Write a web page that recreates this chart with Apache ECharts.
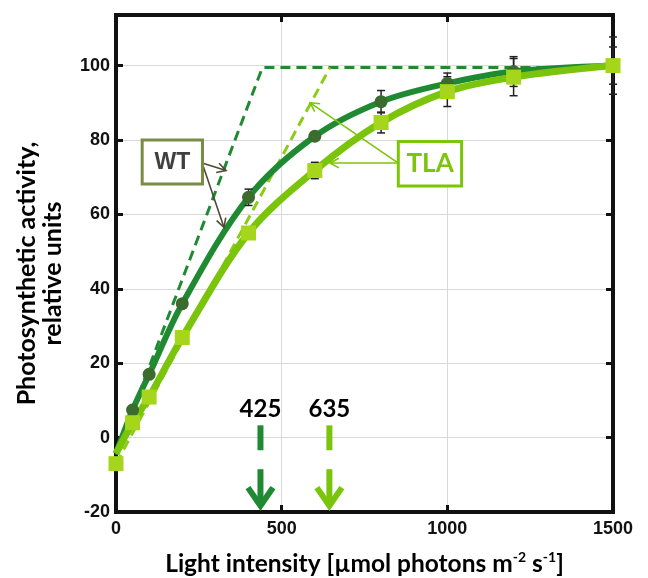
<!DOCTYPE html>
<html><head><meta charset="utf-8">
<script src="https://cdn.jsdelivr.net/npm/echarts@6/dist/echarts.min.js"></script>
<style>html,body{margin:0;padding:0;background:#fff}#c{width:648px;height:578px}</style>
</head><body><div id="c"></div>
<script>
// ---- data ----
const lightX      = [0, 50, 100, 200, 400, 600, 800, 1000, 1200, 1500];
const wtValues    = [-7, 7.4, 17, 36, 64.6, 81, 90.3, 95.2, 98.4, 100];
const tlaValues   = [-7, 4, 10.9, 26.9, 55, 71.8, 84.7, 93, 96.9, 100];
const wtCurve     = [-4.3, 7.4, 17, 36, 64.6, 81, 90.3, 95.2, 98.4, 100];
const tlaCurve    = [-4.3, 4, 10.9, 26.9, 55, 71.8, 84.7, 93, 96.9, 100];
const wtErr       = [0, 0, 0, 0, 2.2, 0.6, 3, 2.8, 4, 5];
const tlaErr      = [0, 0, 0, 0, 0.6, 2.2, 2.8, 4, 5, 7.7];
const wtTangentX  = [0, 442, 1500];
const wtTangentY  = [-4.6, 99.5, 99.5];
const tlaTangentX = [0, 646];
const tlaTangentY = [-7, 99.5];
const saturationLabels = [425, 635];
const saturationX      = [436, 644];
const noteLabels  = ['WT', 'TLA'];
const xTicks = [0, 500, 1000, 1500];
const yTicks = [-20, 0, 20, 40, 60, 80, 100];

// ---- styles ----
const C = {
  wtLine: '#1f8a32', wtMark: '#3b6b2d', tlaLine: '#7bc40c', tlaMark: '#a6d61c',
  tlaDash: '#8acc18', wtBox: '#7a8b45', wtText: '#404040', wtArrow: '#4d4b35',
  tlaBox: '#7cc50a', grid: '#d9d9d9', axis: '#111'
};
// annotation anchor points (data coordinates)
const noteSpec = [
  {box: [79, 80, 261, 68.2], text: [170, 74], from: [260, 73.8], to: [[332, 71.8], [326, 56.5]],
   border: C.wtBox, color: C.wtText, arrow: C.wtArrow, font: 'bold 23px "Liberation Sans", Arial, sans-serif'},
  {box: [852, 79.6, 1043, 67.6], text: [948, 73.6], from: [852, 73.8], to: [[586, 90], [646, 73.8]],
   border: C.tlaBox, color: C.tlaBox, arrow: C.tlaBox, font: 'bold 26px Lato, sans-serif'}
];
const arrowColors = [C.wtLine, C.tlaLine];

const zip = (xs, ys) => xs.map((x, i) => [x, ys[i]]);
const zip3 = (xs, ys, es) => xs.map((x, i) => [x, ys[i], es[i]]);

function headPts(tip, from, len, ang) {
  const dx = tip[0] - from[0], dy = tip[1] - from[1];
  const L = Math.hypot(dx, dy), ux = dx / L, uy = dy / L;
  const r = (a) => [tip[0] - len * (ux * Math.cos(a) - uy * Math.sin(a)),
                    tip[1] - len * (ux * Math.sin(a) + uy * Math.cos(a))];
  return [r(ang), tip, r(-ang)];
}

function errRender(params, api) {
  const x = api.value(0), y = api.value(1), e = api.value(2);
  if (!e) return null;
  const lo = api.coord([x, y - e]), hi = api.coord([x, y + e]);
  const w = 4, st = {stroke: '#222', lineWidth: 1.5};
  return {type: 'group', children: [
    {type: 'line', shape: {x1: lo[0], y1: lo[1], x2: hi[0], y2: hi[1]}, style: st},
    {type: 'line', shape: {x1: lo[0] - w, y1: lo[1], x2: lo[0] + w, y2: lo[1]}, style: st},
    {type: 'line', shape: {x1: hi[0] - w, y1: hi[1], x2: hi[0] + w, y2: hi[1]}, style: st}
  ]};
}

const tickStyle = {show: true, inside: true, length: 7, lineStyle: {color: C.axis, width: 3}};
const frameLine = {show: true, onZero: false, lineStyle: {color: C.axis, width: 4, cap: 'square'}};
const labelFont = {fontFamily: '"Liberation Sans", Arial, sans-serif', fontWeight: 'bold', fontSize: 18, color: '#111'};

const chart = echarts.init(document.getElementById('c'), null, {renderer: 'canvas'});
chart.setOption({
  animation: false,
  backgroundColor: '#fff',
  grid: {left: 116, right: 35, top: 15, bottom: 66, show: false, containLabel: false, outerBoundsMode: 'none'},
  xAxis: [{
    type: 'value', position: 'bottom', min: xTicks[0], max: xTicks[xTicks.length - 1], interval: 500,
    axisLine: frameLine, axisTick: tickStyle,
    axisLabel: Object.assign({margin: 8, formatter: v => String(v)}, labelFont),
    splitLine: {show: true, lineStyle: {color: C.grid, width: 1}},
    name: '{a|Light intensity [µmol photons m}{s|-2}{a| s}{s|-1}{a|]}',
    nameLocation: 'middle', nameGap: 38,
    nameTextStyle: {rich: {
      a: {fontFamily: 'Lato, sans-serif', fontWeight: 'bold', fontSize: 24.5, color: '#000', lineHeight: 28},
      s: {fontFamily: 'Lato, sans-serif', fontWeight: 'bold', fontSize: 14, color: '#000', lineHeight: 15, verticalAlign: 'top'}
    }}
  }, {
    type: 'value', position: 'top', min: xTicks[0], max: xTicks[xTicks.length - 1], interval: 500,
    axisLine: frameLine, axisTick: tickStyle, axisLabel: {show: false}, splitLine: {show: false}
  }],
  yAxis: [{
    type: 'value', position: 'left', min: yTicks[0], max: 113.6, interval: 20,
    axisLine: frameLine, axisTick: tickStyle,
    axisLabel: Object.assign({margin: 6, showMaxLabel: false,
      formatter: v => (yTicks.indexOf(v) >= 0 ? String(v) : '')}, labelFont),
    splitLine: {show: true, lineStyle: {color: C.grid, width: 1}},
    name: 'Photosynthetic activity,\nrelative units',
    nameLocation: 'middle', nameGap: 50, nameRotate: 90,
    nameTextStyle: {fontFamily: 'Lato, sans-serif', fontWeight: 'bold', fontSize: 25, color: '#000', lineHeight: 26,
      padding: [0, 20, 0, 0]}
  }, {
    type: 'value', position: 'right', min: yTicks[0], max: 113.6, interval: 20,
    axisLine: frameLine, axisTick: tickStyle, axisLabel: {show: false}, splitLine: {show: false}
  }],
  series: [
    {type: 'line', name: 'WT tangent', z: 1, data: zip(wtTangentX, wtTangentY), symbol: 'none',
     lineStyle: {color: C.wtLine, width: 3, type: [10, 6]}},
    {type: 'line', name: 'TLA tangent', z: 1, data: zip(tlaTangentX, tlaTangentY), symbol: 'none',
     lineStyle: {color: C.tlaDash, width: 3, type: [10, 6]}},
    {type: 'line', name: 'WT fit', z: 2, data: zip(lightX, wtCurve), symbol: 'none', smooth: 0.33,
     lineStyle: {color: C.wtLine, width: 6}},
    {type: 'line', name: 'TLA fit', z: 2, data: zip(lightX, tlaCurve), symbol: 'none', smooth: 0.33,
     lineStyle: {color: C.tlaLine, width: 7}},
    {type: 'custom', name: 'WT err', z: 3, data: zip3(lightX, wtValues, wtErr), renderItem: errRender},
    {type: 'custom', name: 'TLA err', z: 3, data: zip3(lightX, tlaValues, tlaErr), renderItem: errRender},
    {type: 'scatter', name: 'WT', z: 4, data: zip(lightX, wtValues), symbol: 'circle', symbolSize: 13,
     itemStyle: {color: C.wtMark, opacity: 1}},
    {type: 'scatter', name: 'TLA', z: 5, data: zip(lightX, tlaValues), symbol: 'rect', symbolSize: 15,
     itemStyle: {color: C.tlaMark, opacity: 1}},
    {type: 'custom', name: 'saturation', z: 6, clip: false,
     data: saturationX.map((x, i) => [x, saturationLabels[i]]),
     renderItem: function (params, api) {
       const x = api.value(0), col = arrowColors[params.dataIndex];
       const p = (y) => api.coord([x, y]);
       const a = p(3.3), b = p(-3.4), c = p(-8.5), t = p(-19.1), lab = p(7.6);
       return {type: 'group', children: [
         {type: 'line', shape: {x1: a[0], y1: a[1], x2: b[0], y2: b[1]}, style: {stroke: col, lineWidth: 6}},
         {type: 'line', shape: {x1: c[0], y1: c[1], x2: t[0], y2: t[1] - 3}, style: {stroke: col, lineWidth: 6}},
         {type: 'polyline', shape: {points: [[t[0] - 12.5, t[1] - 21], [t[0], t[1] - 3], [t[0] + 12.5, t[1] - 21]]},
          style: {stroke: col, lineWidth: 6, fill: 'none', lineJoin: 'miter'}},
         {type: 'text', x: lab[0], y: lab[1], style: {text: String(api.value(1)), font: 'bold 24px Lato, sans-serif',
          fill: '#000', align: 'center', verticalAlign: 'middle'}}
       ]};
     }},
    {type: 'custom', name: 'notes', z: 7, clip: false, data: [[0, 0], [1, 0]],
     renderItem: function (params, api) {
       const s = noteSpec[params.dataIndex];
       const b1 = api.coord([s.box[0], s.box[1]]), b2 = api.coord([s.box[2], s.box[3]]);
       const tp = api.coord(s.text), fr = api.coord(s.from);
       const kids = [];
       s.to.forEach(q => {
         const tq = api.coord(q);
         kids.push({type: 'line', shape: {x1: fr[0], y1: fr[1], x2: tq[0], y2: tq[1]}, style: {stroke: s.arrow, lineWidth: 1.6}});
         kids.push({type: 'polyline', shape: {points: headPts(tq, fr, 10, 0.5)}, style: {stroke: s.arrow, lineWidth: 1.6, fill: 'none'}});
       });
       kids.push({type: 'rect', shape: {x: b1[0], y: b1[1], width: b2[0] - b1[0], height: b2[1] - b1[1]},
         style: {fill: '#fff', stroke: s.border, lineWidth: 3}});
       kids.push({type: 'text', x: tp[0], y: tp[1], style: {text: noteLabels[params.dataIndex], font: s.font,
         fill: s.color, align: 'center', verticalAlign: 'middle'}});
       return {type: 'group', children: kids};
     }}
  ]
});
</script>
</body></html>
